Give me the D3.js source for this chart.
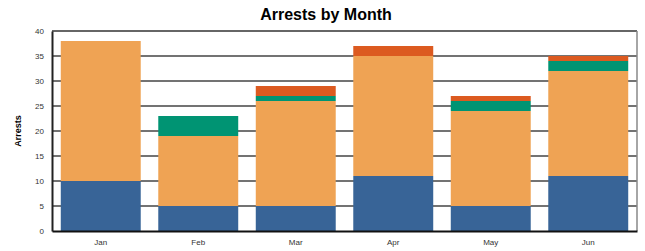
<!DOCTYPE html>
<html>
<head>
<meta charset="utf-8">
<script src="https://cdn.jsdelivr.net/npm/d3@7"></script>
<style>
  body { margin: 0; background: #fff; }
  svg { font-family: "Liberation Sans", Arial, sans-serif; }
  .title { font-size: 16px; font-weight: bold; text-anchor: middle; }
  .axis-label { font-size: 9px; font-weight: bold; text-anchor: middle; }
  .tick text { font-size: 8px; fill: #333; }
</style>
</head>
<body>
<svg id="chart" width="645" height="251"></svg>
<script>
// DATA
const months = ["Jan", "Feb", "Mar", "Apr", "May", "Jun"];
const seriesKeys = ["s1", "s2", "s3", "s4"];
const s1 = [10, 5, 5, 11, 5, 11];
const s2 = [28, 14, 21, 24, 19, 21];
const s3 = [0, 4, 1, 0, 2, 2];
const s4 = [0, 0, 2, 2, 1, 1];
const yTicks = [0, 5, 10, 15, 20, 25, 30, 35, 40];
const colors = ["#386497", "#efa354", "#009473", "#dc5a20"];

// SETUP
const margin = { top: 31, right: 8, bottom: 20, left: 52 },
    width = 645 - margin.left - margin.right,
    height = 251 - margin.top - margin.bottom;

const svg = d3.select("#chart");
const g = svg.append("g")
    .attr("transform", `translate(${margin.left},${margin.top})`);

// build table for stack
const table = months.map((m, i) => ({ month: m, s1: s1[i], s2: s2[i], s3: s3[i], s4: s4[i] }));
const stacked = d3.stack().keys(seriesKeys)(table);

// SCALES
const x = d3.scaleBand()
    .domain(months)
    .range([0, width])
    .paddingInner(0.18)
    .paddingOuter(0.09);

const y = d3.scaleLinear()
    .domain([0, 40])
    .range([height, 0]);

// gridlines
g.append("g")
    .selectAll("line")
    .data(yTicks.filter(d => d > 0 && d < 40))
    .enter()
    .append("line")
    .attr("x1", 0)
    .attr("x2", width)
    .attr("y1", d => y(d))
    .attr("y2", d => y(d))
    .attr("stroke", "#444")
    .attr("stroke-width", 1.6);

// BARS
g.selectAll(".layer")
    .data(stacked)
    .enter()
    .append("g")
    .attr("fill", (d, i) => colors[i])
    .selectAll("rect")
    .data(d => d)
    .enter()
    .append("rect")
    .attr("x", d => x(d.data.month))
    .attr("y", d => y(d[1]))
    .attr("width", x.bandwidth())
    .attr("height", d => y(d[0]) - y(d[1]));

// frame: top and right
g.append("line")
    .attr("x1", 0).attr("x2", width)
    .attr("y1", 0).attr("y2", 0)
    .attr("stroke", "#333").attr("stroke-width", 1.5);
g.append("line")
    .attr("x1", width).attr("x2", width)
    .attr("y1", 0).attr("y2", height)
    .attr("stroke", "#888").attr("stroke-width", 1.5);

// AXES
const yAxis = g.append("g")
    .call(d3.axisLeft(y).tickValues(yTicks).tickSize(0).tickPadding(8));
yAxis.select(".domain").attr("stroke", "#222").attr("stroke-width", 2);

const xAxis = g.append("g")
    .attr("transform", `translate(0,${height})`)
    .call(d3.axisBottom(x).tickSize(0).tickPadding(8));
xAxis.select(".domain").attr("stroke", "#111").attr("stroke-width", 2);

// LABELS
svg.append("text")
    .attr("class", "title")
    .attr("x", 326)
    .attr("y", 20)
    .text("Arrests by Month");

svg.append("text")
    .attr("class", "axis-label")
    .attr("transform", "rotate(-90)")
    .attr("x", -131)
    .attr("y", 21)
    .text("Arrests");
</script>
</body>
</html>
